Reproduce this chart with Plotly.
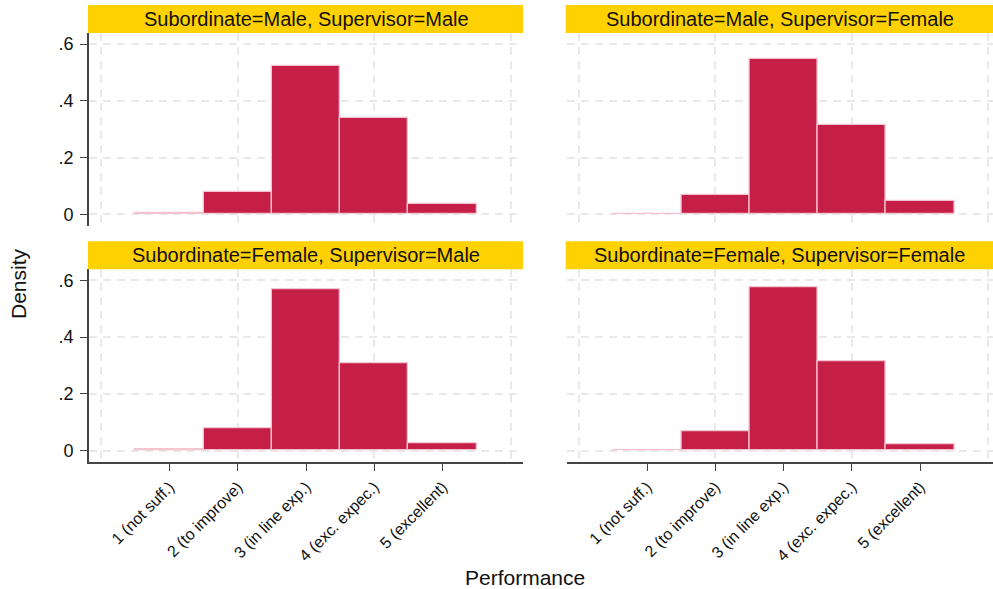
import plotly.graph_objects as go

# Performance categories (bin centres) and their labels
categories = [1, 2, 3, 4, 5]
tick_labels = ["1 (not suff.)", "2 (to improve)", "3 (in line exp.)",
               "4 (exc. expec.)", "5 (excellent)"]

# Density of performance ratings per subordinate/supervisor pairing
dens_m_m = [0.0035, 0.080, 0.522, 0.340, 0.037]
dens_m_f = [0.002, 0.069, 0.547, 0.314, 0.046]
dens_f_m = [0.0035, 0.078, 0.568, 0.308, 0.027]
dens_f_f = [0.002, 0.068, 0.577, 0.314, 0.024]

panel_titles = [
    "Subordinate=Male, Supervisor=Male",
    "Subordinate=Male, Supervisor=Female",
    "Subordinate=Female, Supervisor=Male",
    "Subordinate=Female, Supervisor=Female",
]
panel_values = [dens_m_m, dens_m_f, dens_f_m, dens_f_f]

y_ticks = [0, 0.2, 0.4, 0.6]
y_tick_text = ["0", ".2", ".4", ".6"]
grid_x = [0, 2, 4, 6]

W, H = 993, 589
FONT = "Liberation Sans, Arial, sans-serif"
BAR_FILL = "#C61F47"
BAR_EDGE = "#F3C3CF"
HEADER = "#FFD100"
GRID = "#E9E9E9"
AXIS = "#444444"
TEXT = "#111111"

# panel geometry in pixels
left_x = (89, 523)
right_x = (566.7, 993)
top_y = (33, 226)
bot_y = (269.3, 462.3)
header_h = 28

def xdom(px):
    return [px[0] / W, px[1] / W]

def ydom(py):
    return [(H - py[1]) / H, (H - py[0]) / H]

panels = [
    (left_x, top_y, True, False),
    (right_x, top_y, False, False),
    (left_x, bot_y, True, True),
    (right_x, bot_y, False, True),
]

fig = go.Figure()
layout = {}
shapes = []
annotations = []

for i, ((px, py, show_y, show_x), title, vals) in enumerate(
        zip(panels, panel_titles, panel_values)):
    n = i + 1
    xa = "x" if n == 1 else f"x{n}"
    ya = "y" if n == 1 else f"y{n}"
    xkey = "xaxis" if n == 1 else f"xaxis{n}"
    ykey = "yaxis" if n == 1 else f"yaxis{n}"

    fig.add_trace(go.Bar(
        x=categories, y=vals, width=1,
        marker=dict(color=BAR_FILL, line=dict(color=BAR_EDGE, width=1.3)),
        xaxis=xa, yaxis=ya, showlegend=False, hoverinfo="x+y",
    ))

    x_hi = -0.18 + (px[1] - px[0]) / 68.25
    layout[xkey] = dict(
        domain=xdom(px), anchor=ya, range=[-0.18, x_hi],
        tickmode="array", tickvals=categories,
        ticktext=tick_labels if show_x else [""] * 5,
        showticklabels=show_x, tickangle=-45,
        ticks="outside" if show_x else "", ticklen=7, tickwidth=1.4,
        tickcolor=AXIS,
        showline=show_x, linecolor=AXIS, linewidth=2,
        showgrid=False, zeroline=False,
        minor=dict(tickmode="array", tickvals=grid_x, showgrid=True,
                   gridcolor=GRID, gridwidth=1.5, griddash="8px,6px",
                   ticks=""),
        tickfont=dict(family=FONT, size=16, color=TEXT),
        fixedrange=True,
    )
    layout[ykey] = dict(
        domain=ydom(py), anchor=xa, range=[-0.041, 0.639],
        tickmode="array", tickvals=y_ticks, ticktext=y_tick_text,
        showticklabels=show_y,
        ticks="outside" if show_y else "", ticklen=7, tickwidth=1.4,
        tickcolor=AXIS,
        showline=show_y, linecolor=AXIS, linewidth=2,
        showgrid=True, gridcolor=GRID, gridwidth=1.5, griddash="8px,6px",
        zeroline=False,
        tickfont=dict(family=FONT, size=18, color=TEXT),
        ticklabelstandoff=3,
        fixedrange=True,
    )

    # coloured strip holding the panel title
    dom_x = xdom(px)
    top_paper = (H - py[0]) / H
    shapes.append(dict(
        type="rect", xref="paper", yref="paper",
        x0=dom_x[0] - 1 / W, x1=dom_x[1],
        y0=top_paper, y1=top_paper + header_h / H,
        fillcolor=HEADER, line=dict(width=0), layer="above",
    ))
    annotations.append(dict(
        text=title, xref="paper", yref="paper",
        x=(px[0] + min(px[1], px[0] + 434)) / 2 / W,
        y=top_paper + header_h / 2 / H,
        xanchor="center", yanchor="middle", showarrow=False,
        font=dict(family=FONT, size=20, color=TEXT),
    ))

annotations.append(dict(
    text="Density", xref="paper", yref="paper",
    x=18 / W, y=(H - 284) / H, textangle=-90,
    xanchor="center", yanchor="middle", showarrow=False,
    font=dict(family=FONT, size=21, color=TEXT),
))
annotations.append(dict(
    text="Performance", xref="paper", yref="paper",
    x=525 / W, y=(H - 577) / H,
    xanchor="center", yanchor="middle", showarrow=False,
    font=dict(family=FONT, size=21, color=TEXT),
))

fig.update_layout(
    width=W, height=H,
    margin=dict(l=0, r=0, t=0, b=0),
    paper_bgcolor="white", plot_bgcolor="white",
    bargap=0,
    shapes=shapes, annotations=annotations,
    font=dict(family=FONT),
    **layout,
)

fig.write_html("out.html")
